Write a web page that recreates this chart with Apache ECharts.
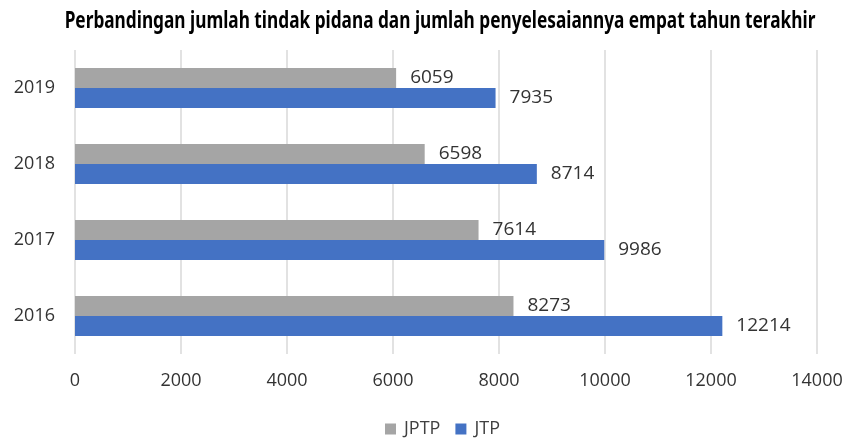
<!DOCTYPE html>
<html>
<head>
<meta charset="utf-8">
<script src="https://cdn.jsdelivr.net/npm/echarts@6/dist/echarts.min.js"></script>
<style>
  html, body { margin: 0; padding: 0; background: #fff; }
  #chart { width: 854px; height: 440px; }
</style>
</head>
<body>
<div id="chart"></div>
<script>
var years = ['2016', '2017', '2018', '2019'];
var jptp = [8273, 7614, 6598, 6059];
var jtp = [12214, 9986, 8714, 7935];
var xTicks = { min: 0, max: 14000, interval: 2000 };
var titleText = 'Perbandingan jumlah tindak pidana dan jumlah penyelesaiannya empat tahun terakhir';

var textFont = '"Open Sans", "Noto Sans", sans-serif';
var chart = echarts.init(document.getElementById('chart'));

function barLabel() {
  return {
    show: true, position: 'right', distance: 14,
    color: '#333', fontSize: 19, fontFamily: textFont
  };
}

chart.setOption({
  animation: false,
  // 标题用窄体效果:横向压缩
  graphic: [{
    type: 'text', x: 440, y: 21, scaleX: 0.75,
    style: {
      text: titleText,
      font: 'bold 23px "Noto Sans", sans-serif',
      fill: '#000', align: 'center', verticalAlign: 'middle'
    }
  }],
  legend: {
    data: ['JPTP', 'JTP'],
    top: 415, left: 380,
    icon: 'rect', itemWidth: 11, itemHeight: 11, itemGap: 15,
    textStyle: { color: '#404040', fontSize: 18, fontFamily: textFont, padding: [0, 0, 0, 3] }
  },
  grid: { left: 75, right: 37, top: 50, bottom: 86, containLabel: false },
  xAxis: {
    type: 'value', min: xTicks.min, max: xTicks.max, interval: xTicks.interval,
    axisLine: { show: false }, axisTick: { show: false },
    axisLabel: {
      color: '#333', fontSize: 18, fontFamily: textFont, margin: 18,
      formatter: function (v) { return String(v); }
    },
    splitLine: { lineStyle: { color: '#d9d9d9', width: 1.5 } }
  },
  yAxis: {
    type: 'category', data: years,
    axisLine: { show: false }, axisTick: { show: false },
    axisLabel: { color: '#333', fontSize: 18, fontFamily: textFont, margin: 20 }
  },
  series: [
    {
      name: 'JPTP', type: 'bar', data: jptp,
      barWidth: 20, barGap: '0%',
      itemStyle: { color: '#A5A5A5' },
      label: barLabel()
    },
    {
      name: 'JTP', type: 'bar', data: jtp,
      barWidth: 20, barGap: '0%',
      itemStyle: { color: '#4472C4' },
      label: barLabel()
    }
  ]
});
</script>
</body>
</html>
